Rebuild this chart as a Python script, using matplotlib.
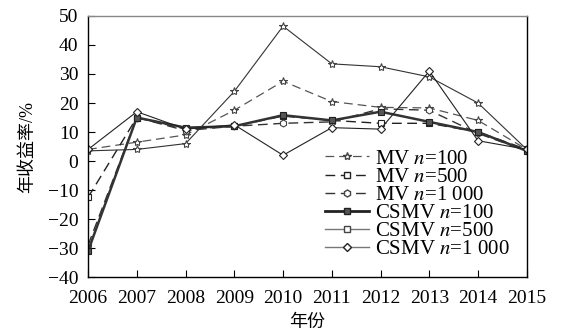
import matplotlib.pyplot as plt
from matplotlib.lines import Line2D

# Annual return (%) of each portfolio, 2006-2015
years = [2006, 2007, 2008, 2009, 2010, 2011, 2012, 2013, 2014, 2015]
mv_100 = [4, 6.5, 9, 17.5, 27.5, 20.5, 18.5, 18.3, 14, 4]
mv_500 = [-12.5, 15, 11, 12, 15.5, 14, 13, 13, 10, 4]
mv_1000 = [-29, 15, 10.5, 12, 13, 13.5, 18, 17.5, 9.5, 3.5]
csmv_100 = [-31, 15, 11.5, 12, 15.8, 14, 17, 13.5, 10, 3.5]
csmv_500 = [3.5, 4, 6, 24, 46.5, 33.5, 32.5, 29, 20, 4]
csmv_1000 = [4, 17, 11, 12.5, 2, 11.5, 11, 31, 7, 4]

labels = ['MV $n$=100', 'MV $n$=500', 'MV $n$=1 000',
          'CSMV $n$=100', 'CSMV $n$=500', 'CSMV $n$=1 000']

plt.rcParams['font.family'] = ['Liberation Serif', 'Noto Sans CJK SC']
plt.rcParams['mathtext.fontset'] = 'stix'

fig = plt.figure(figsize=(5.61, 3.33), dpi=100)
ax = fig.add_axes([0.157, 0.168, 0.782, 0.784])

dash = (0, (7, 4))
ax.plot(years, mv_100, color='#555555', lw=0.9, linestyle=dash,
        marker='*', ms=6, mfc='white', mec='#444444', mew=0.8)
ax.plot(years, mv_500, color='#222222', lw=1.0, linestyle=dash,
        marker='s', ms=4.5, mfc='white', mec='#222222', mew=0.8)
ax.plot(years, mv_1000, color='#333333', lw=1.0, linestyle=dash,
        marker='h', ms=5, mfc='white', mec='#444444', mew=0.8)
ax.plot(years, csmv_100, color='#333333', lw=1.8,
        marker='s', ms=4.5, mfc='#555555', mec='#222222', mew=0.8)
ax.plot(years, csmv_500, color='#333333', lw=0.8,
        marker='*', ms=6, mfc='white', mec='#444444', mew=0.8)
ax.plot(years, csmv_1000, color='#222222', lw=0.8,
        marker='D', ms=4.5, mfc='white', mec='#222222', mew=0.8)

ax.set_xlim(2006, 2015)
ax.set_ylim(-40, 50)
ax.set_xticks(years)
ax.set_yticks(range(-40, 51, 10))
ax.set_yticklabels(['\u221240', '\u221230', '\u221220', '\u221210', '0',
                    '10', '20', '30', '40', '50'])
ax.tick_params(direction='in', length=5, width=0.8, labelsize=14,
               top=False, right=False)
ax.tick_params(axis='x', pad=9)
ax.tick_params(axis='y', pad=7)
ax.spines['top'].set_color('#888888')
for s in ax.spines.values():
    s.set_linewidth(1.0)

ax.set_xlabel('年份', fontsize=13, labelpad=5)
ax.set_ylabel('年收益率/%', fontsize=13, labelpad=8)

handles = [
    Line2D([], [], color='#555555', lw=0.9, linestyle=dash, marker='*',
           ms=6, mfc='white', mec='#444444'),
    Line2D([], [], color='#222222', lw=1.0, linestyle=dash, marker='s',
           ms=4.5, mfc='white', mec='#222222'),
    Line2D([], [], color='#333333', lw=1.0, linestyle=dash, marker='h',
           ms=5, mfc='white', mec='#444444'),
    Line2D([], [], color='#222222', lw=2.0, marker='s', ms=4.5,
           mfc='#555555', mec='#222222'),
    Line2D([], [], color='#777777', lw=1.0, marker='s', ms=4.5,
           mfc='white', mec='#444444'),
    Line2D([], [], color='#777777', lw=1.0, marker='D', ms=4.5,
           mfc='white', mec='#222222'),
]
ax.legend(handles, labels, loc='lower right', bbox_to_anchor=(0.99, 0.02),
          frameon=False, fontsize=15, handlelength=2.1, handletextpad=0.3,
          labelspacing=-0.07, borderaxespad=0.2)

fig.savefig('out.png', dpi=100)
